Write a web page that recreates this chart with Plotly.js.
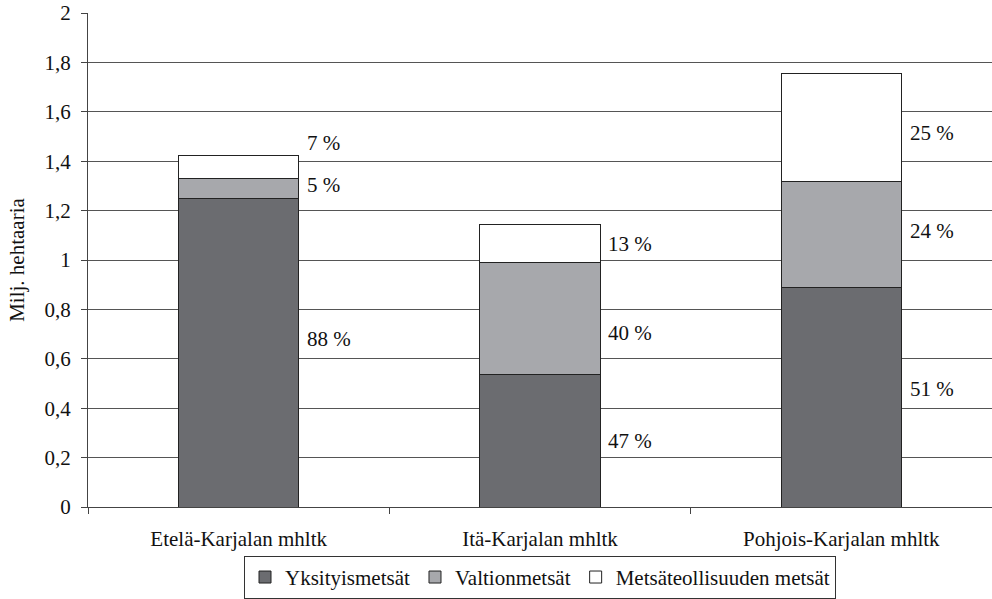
<!DOCTYPE html>
<html>
<head>
<meta charset="utf-8">
<script src="https://cdn.plot.ly/plotly-3.0.1.min.js"></script>
<style>html,body{margin:0;padding:0;background:#fff}#chart{width:992px;height:599px}</style>
</head>
<body>
<div id="chart"></div>
<script>
const categories = ["Etelä-Karjalan mhltk", "Itä-Karjalan mhltk", "Pohjois-Karjalan mhltk"];
const seriesNames = ["Yksityismetsät", "Valtionmetsät", "Metsäteollisuuden metsät"];
const yksityis = [1.251, 0.538, 0.887];
const valtion = [0.077, 0.450, 0.429];
const metsateol = [0.097, 0.154, 0.441];
const pctYksityis = ["88 %", "47 %", "51 %"];
const pctValtion = ["5 %", "40 %", "24 %"];
const pctMetsateol = ["7 %", "13 %", "25 %"];

const colors = ["#6b6c70", "#a7a8ac", "#ffffff"];
const font = "'Liberation Serif'";
const series = [yksityis, valtion, metsateol];
const pcts = [pctYksityis, pctValtion, pctMetsateol];

const traces = series.map((vals, i) => ({
  type: "bar",
  name: seriesNames[i],
  x: categories,
  y: vals,
  marker: {color: colors[i], line: {color: "#222", width: 1}},
  hoverinfo: "none"
}));

// label vertical adjustments (pixels, positive = up) per category, per series
const labelShift = [[14, 3, 24], [0, -14, 0], [8, 4, -6]];
const annotations = [];
categories.forEach((c, ci) => {
  let base = 0;
  series.forEach((vals, si) => {
    const mid = base + vals[ci] / 2;
    base += vals[ci];
    annotations.push({
      x: ci + 0.2, y: mid, xref: "x", yref: "y",
      text: pcts[si][ci], showarrow: false,
      xanchor: "left", yanchor: "middle", xshift: 6,
      yshift: labelShift[ci][si],
      font: {family: font, size: 21, color: "#111"}
    });
  });
});

const layout = {
  width: 992, height: 599,
  barmode: "stack",
  bargap: 0.6,
  separators: ", ",
  margin: {l: 88, r: 0, t: 13, b: 92, autoexpand: false},
  paper_bgcolor: "#fff", plot_bgcolor: "#fff",
  font: {family: font, size: 21, color: "#111"},
  showlegend: true,
  legend: {
    orientation: "h", x: 0.5, xanchor: "center", xref: "paper",
    y: 0.072, yanchor: "top", yref: "container",
    bordercolor: "#333", borderwidth: 1, font: {family: font, size: 21, color: "#111"},
    traceorder: "normal", itemwidth: 30, tracegroupgap: 0
  },
  xaxis: {
    type: "category", showgrid: false, showline: true, linecolor: "#444", linewidth: 1,
    ticks: "outside", tickson: "boundaries", ticklen: 6, tickcolor: "#444",
    ticklabelstandoff: 13,
    tickfont: {family: font, size: 21, color: "#111"}, range: [-0.5, 2.5]
  },
  yaxis: {
    range: [0, 2], dtick: 0.2, tick0: 0, showgrid: true, gridcolor: "#555", gridwidth: 1,
    showline: true, linecolor: "#444", linewidth: 1, ticks: "outside", ticklen: 6, tickcolor: "#444",
    ticklabelstandoff: 6,
    tickfont: {family: font, size: 21, color: "#111"}, zeroline: false,
    title: {text: "Milj. hehtaaria", font: {family: font, size: 21, color: "#111"}, standoff: 14}
  },
  annotations: annotations
};

Plotly.newPlot("chart", traces, layout, {displayModeBar: false, staticPlot: true});
</script>
</body>
</html>
